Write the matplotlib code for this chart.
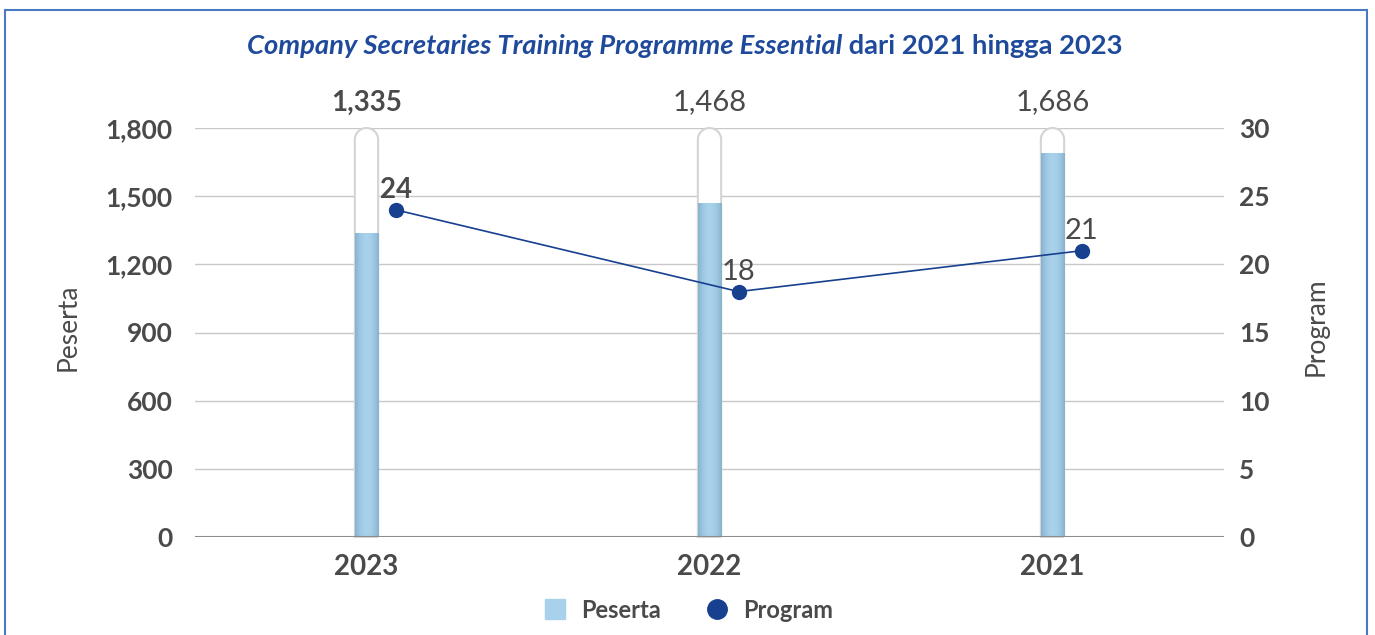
import numpy as np
import matplotlib
matplotlib.use("Agg")
import matplotlib.pyplot as plt
from matplotlib.path import Path
from matplotlib.patches import PathPatch, Rectangle
from matplotlib.lines import Line2D

plt.rcParams['font.family'] = ['Lato', 'DejaVu Sans']

years = ["2023", "2022", "2021"]
peserta = [1335, 1468, 1686]
program = [24, 18, 21]
peserta_ticks = [0, 300, 600, 900, 1200, 1500, 1800]
program_ticks = [0, 5, 10, 15, 20, 25, 30]
bold_labels = [True, False, False]

TEXT = "#4a4a4a"
NAVY = "#17408f"
TITLE_BLUE = "#1f4a9c"
BAR_MID = np.array([0.66, 0.82, 0.92])
BAR_EDGE = np.array([0.53, 0.70, 0.81])

W, H = 1375, 635
fig = plt.figure(figsize=(W / 100, H / 100), dpi=100)
ax = fig.add_axes([195 / W, 1 - 537 / H, (1224 - 195) / W, (537 - 128) / H])
ax2 = ax.twinx()

ymax = peserta_ticks[-1]
ax.set_xlim(-0.5, 2.5)
ax.set_ylim(0, ymax)
ax2.set_ylim(0, program_ticks[-1])

# outer frame
fig.patches.append(Rectangle((5 / W, -0.1), (1367 - 5) / W, 1.1 - 10 / H,
                             transform=fig.transFigure, fill=False,
                             edgecolor="#4a78c2", linewidth=1.5))

bw = 0.068
xs = np.arange(len(years))
ax_w_px = ax.get_position().width * W
ax_h_px = ax.get_position().height * H
r_y = (bw / 2) * (ax_w_px / 3) / (ax_h_px / ymax)

# capsule background to full scale
for x in xs:
    left, right = x - bw / 2, x + bw / 2
    ang = np.linspace(0, np.pi, 40)
    arc = np.column_stack([x + (bw / 2) * np.cos(ang), ymax - r_y + r_y * np.sin(ang)])
    verts = np.vstack([[right, 0], [right, ymax - r_y], arc, [left, 0], [right, 0]])
    ax.add_patch(PathPatch(Path(verts), facecolor="white", edgecolor="#d4d4d4",
                           linewidth=1.5, zorder=2, clip_on=False))

# bars with horizontal shading
t = np.abs(np.linspace(-1, 1, 40)) ** 2
grad = (BAR_MID[None, :] * (1 - t[:, None]) + BAR_EDGE[None, :] * t[:, None])[None, :, :]
for x, v in zip(xs, peserta):
    ax.imshow(grad, extent=[x - bw / 2, x + bw / 2, 0, v], aspect="auto",
              zorder=3, interpolation="bilinear")
ax.set_xlim(-0.5, 2.5)
ax.set_ylim(0, ymax)

for x, v, b in zip(xs, peserta, bold_labels):
    ax.annotate(f"{v:,}", (x, ymax), xytext=(0, 9), textcoords="offset points",
                ha="center", va="bottom", fontsize=21 if not b else 20, color=TEXT,
                fontweight="bold" if b else "normal", annotation_clip=False)

# program line, shifted right of the bars
lx = xs + 0.085
ax2.plot(lx, program, color=NAVY, linewidth=1.2, marker="o", markersize=10,
         markerfacecolor=NAVY, markeredgecolor=NAVY, zorder=5)
for x, v, b in zip(lx, program, bold_labels):
    ax2.annotate(f"{v}", (x, v), xytext=(0, 5), textcoords="offset points",
                 ha="center", va="bottom", fontsize=21 if not b else 20, color=TEXT,
                 fontweight="bold" if b else "normal")

ax.set_yticks(peserta_ticks)
ax.set_yticklabels([f"{v:,}" for v in peserta_ticks])
ax2.set_yticks(program_ticks)
ax.set_xticks(xs)
ax.set_xticklabels(years)
ax.grid(axis="y", color="#c8c8c8", linewidth=1)
ax.set_axisbelow(True)
for a in (ax, ax2):
    for s in a.spines.values():
        s.set_visible(False)
    a.tick_params(length=0)
ax.axhline(0, color="#8c8c8c", linewidth=1.5, zorder=4)

ax.tick_params(axis="y", labelsize=19, labelcolor=TEXT, pad=16)
ax2.tick_params(axis="y", labelsize=19, labelcolor=TEXT, pad=11)
ax.tick_params(axis="x", labelsize=20, labelcolor=TEXT, pad=12)
for lab in ax.get_yticklabels() + ax2.get_yticklabels() + ax.get_xticklabels():
    lab.set_fontweight("bold")

fig.text(68 / W, 1 - 327 / H, "Peserta", rotation=90, ha="center", va="center",
         fontsize=19, color=TEXT)
fig.text(1316 / W, 1 - 327 / H, "Program", rotation=90, ha="center", va="center",
         fontsize=19, color=TEXT)

# title in two styles
t1 = fig.text(0, 1 - 46 / H, "Company Secretaries Training Programme Essential",
              fontsize=19.7, fontweight="bold", fontstyle="italic", color=TITLE_BLUE,
              va="center", ha="left")
t2 = fig.text(0, 1 - 46 / H, " dari 2021 hingga 2023", fontsize=19.7,
              fontweight="bold", color=TITLE_BLUE, va="center", ha="left")
fig.canvas.draw()
r = fig.canvas.get_renderer()
w1 = t1.get_window_extent(r).width
w2 = t2.get_window_extent(r).width
x0 = (685 - (w1 + w2) / 2)
t1.set_x(x0 / W)
t2.set_x((x0 + w1) / W)

handles = [Line2D([], [], linestyle="none", marker="s", markersize=15,
                  markerfacecolor=BAR_MID, markeredgecolor=BAR_MID),
           Line2D([], [], linestyle="none", marker="o", markersize=14,
                  markerfacecolor=NAVY, markeredgecolor=NAVY)]
leg = fig.legend(handles, ["Peserta", "Program"], loc="center",
                 bbox_to_anchor=(688 / W, 1 - 610 / H), ncol=2, frameon=False,
                 prop={"size": 17, "weight": "bold"}, columnspacing=1.9,
                 handlelength=1.0, handletextpad=0.6)
for txt in leg.get_texts():
    txt.set_color(TEXT)

fig.savefig("out.png", dpi=100)
